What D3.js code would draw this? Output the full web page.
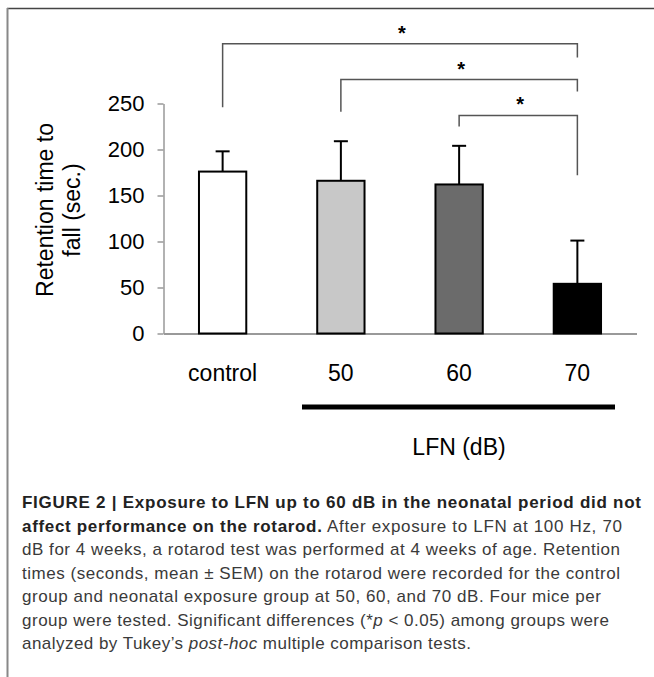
<!DOCTYPE html>
<html>
<head>
<meta charset="utf-8">
<script src="https://cdn.jsdelivr.net/npm/d3@7"></script>
<style>
  body { margin: 0; background: #fff; }
  svg { display: block; font-family: "Liberation Sans", Arial, Helvetica, sans-serif; }
</style>
</head>
<body>
<div id="chart"></div>
<script>
const categories = ['control', '50', '60', '70'];
const means = [176, 166, 162, 54];
const sems = [22, 43, 42, 47];
const barColors = ['#ffffff', '#c8c8c8', '#6b6b6b', '#000000'];
const yTicks = [0, 50, 100, 150, 200, 250];
// significance brackets: from, to, top level, left leg end, right leg end (data units)
const brackets = [
    { from: 'control', to: '70', top: 315, left: 246, right: 300 },
    { from: '50', to: '70', top: 276, left: 241, right: 263 },
    { from: '60', to: '70', top: 237, left: 225, right: 172 }
];
const captionLines = [
    [{ t: 'FIGURE 2 | Exposure to LFN up to 60 dB in the neonatal period did not', b: true }],
    [{ t: 'affect performance on the rotarod.', b: true }, { t: ' After exposure to LFN at 100 Hz, 70' }],
    [{ t: 'dB for 4 weeks, a rotarod test was performed at 4 weeks of age. Retention' }],
    [{ t: 'times (seconds, mean \u00b1 SEM) on the rotarod were recorded for the control' }],
    [{ t: 'group and neonatal exposure group at 50, 60, and 70 dB. Four mice per' }],
    [{ t: 'group were tested. Significant differences (*' }, { t: 'p', i: true }, { t: ' < 0.05) among groups were' }],
    [{ t: 'analyzed by Tukey\u2019s ' }, { t: 'post-hoc', i: true }, { t: ' multiple comparison tests.' }]
];
const captionWidths = [619, 600, 598, 598, 579, 587, 449];

const width = 654, height = 677;

const svg = d3.select("#chart")
    .append("svg")
    .attr("width", width)
    .attr("height", height);

// frame
svg.append("line").attr("x1", 7).attr("x2", width).attr("y1", 8.5).attr("y2", 8.5)
    .attr("stroke", "#444").attr("stroke-width", 1.5);
svg.append("line").attr("x1", 7.5).attr("x2", 7.5).attr("y1", 8).attr("y2", height)
    .attr("stroke", "#888").attr("stroke-width", 2);

const x = d3.scaleBand()
    .domain(categories)
    .range([163.5, 636.5])
    .paddingInner(0.6)
    .paddingOuter(0.3);

const y = d3.scaleLinear()
    .domain([0, 250])
    .range([333.5, 103.5]);

// y axis
const yAxis = svg.append("g")
    .attr("transform", "translate(163.5,0)")
    .call(d3.axisLeft(y).tickValues(yTicks).tickSize(6).tickSizeOuter(0).tickPadding(13));
yAxis.select(".domain").attr("stroke", "#999").attr("stroke-width", 1.5);
yAxis.selectAll(".tick line").attr("stroke", "#999").attr("stroke-width", 1.5);
yAxis.selectAll(".tick text")
    .attr("font-size", 22)
    .attr("font-family", "Liberation Sans, Arial, sans-serif")
    .attr("fill", "#000");

// x axis line
const xAxis = svg.append("g")
    .attr("transform", `translate(0,${y(0)})`)
    .call(d3.axisBottom(x).tickValues([]).tickSizeOuter(0));
xAxis.select(".domain").attr("stroke", "#999").attr("stroke-width", 2);

// bars
svg.selectAll(".bar")
    .data(categories)
    .enter()
    .append("rect")
    .attr("class", "bar")
    .attr("x", d => x(d))
    .attr("y", (d, i) => y(means[i]))
    .attr("width", x.bandwidth())
    .attr("height", (d, i) => y(0) - y(means[i]))
    .attr("fill", (d, i) => barColors[i])
    .attr("stroke", "#000")
    .attr("stroke-width", 2);

// error bars
const cx = d => x(d) + x.bandwidth() / 2;
categories.forEach((c, i) => {
    svg.append("line")
        .attr("x1", cx(c)).attr("x2", cx(c))
        .attr("y1", y(means[i])).attr("y2", y(means[i] + sems[i]))
        .attr("stroke", "#000").attr("stroke-width", 2);
    svg.append("line")
        .attr("x1", cx(c) - 7).attr("x2", cx(c) + 7)
        .attr("y1", y(means[i] + sems[i])).attr("y2", y(means[i] + sems[i]))
        .attr("stroke", "#000").attr("stroke-width", 2);
});

// category labels
svg.selectAll(".cat")
    .data(categories)
    .enter()
    .append("text")
    .attr("class", "cat")
    .attr("x", d => cx(d))
    .attr("y", 381)
    .attr("text-anchor", "middle")
    .attr("font-size", 23)
    .text(d => d);

// LFN group line and label
svg.append("line")
    .attr("x1", 302).attr("x2", 615)
    .attr("y1", 407).attr("y2", 407)
    .attr("stroke", "#000").attr("stroke-width", 5);
svg.append("text")
    .attr("x", 459).attr("y", 455)
    .attr("text-anchor", "middle")
    .attr("font-size", 23)
    .text("LFN (dB)");

// y label
const yLabel = svg.append("text")
    .attr("transform", "translate(45,210) rotate(-90)")
    .attr("text-anchor", "middle")
    .attr("font-size", 23);
yLabel.append("tspan").attr("x", 0).attr("dy", "0.35em").text("Retention time to");
yLabel.append("tspan").attr("x", 0).attr("dy", 27).text("fall (sec.)");

// significance brackets
brackets.forEach(b => {
    const x1 = cx(b.from), x2 = cx(b.to);
    svg.append("path")
        .attr("d", `M${x1},${y(b.left)}V${y(b.top)}H${x2}V${y(b.right)}`)
        .attr("fill", "none")
        .attr("stroke", "#555")
        .attr("stroke-width", 1.5);
    svg.append("text")
        .attr("x", (x1 + x2) / 2 + 2)
        .attr("y", y(b.top) - 4)
        .attr("text-anchor", "middle")
        .attr("font-size", 20)
        .attr("font-weight", "bold")
        .text("*");
});

// caption
captionLines.forEach((line, i) => {
    const t = svg.append("text")
        .attr("x", 22)
        .attr("y", 508 + i * 23.5)
        .attr("font-size", 17)
        .attr("fill", "#3a3a3a")
        .attr("textLength", captionWidths[i])
        .attr("lengthAdjust", "spacing");
    line.forEach(part => {
        t.append("tspan")
            .attr("font-weight", part.b ? "bold" : null)
            .attr("font-style", part.i ? "italic" : null)
            .attr("fill", part.b ? "#222" : null)
            .text(part.t);
    });
});
</script>
</body>
</html>
